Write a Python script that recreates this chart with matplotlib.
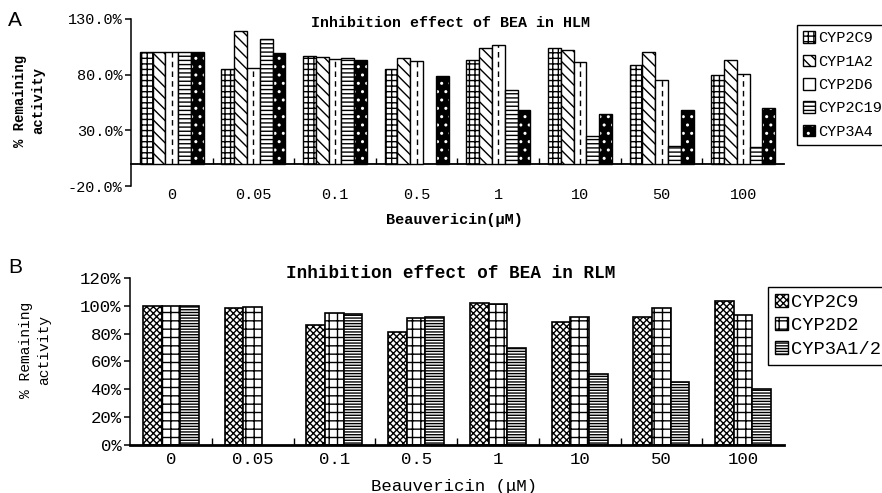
import numpy as np
import matplotlib
matplotlib.use('Agg')
import matplotlib.pyplot as plt
import matplotlib.patches as mpatches

plt.rcParams['font.family'] = ['Liberation Mono', 'DejaVu Sans Mono']
plt.rcParams['hatch.linewidth'] = 1.0

conc = ['0', '0.05', '0.1', '0.5', '1', '10', '50', '100']

# HLM (panel A), % remaining activity
hlm_names = ['CYP2C9', 'CYP1A2', 'CYP2D6', 'CYP2C19', 'CYP3A4']
hlm_2c9 = [100, 85, 97, 85, 93, 104, 89, 80]
hlm_1a2 = [100, 119, 96, 95, 104, 102, 100, 93]
hlm_2d6 = [100, 86, 94, 92, 107, 91, 75, 81]
hlm_2c19 = [100, 112, 95, np.nan, 66, 25, 16, 15]
hlm_3a4 = [100, 99, 93, 79, 48, 45, 48, 50]

# RLM (panel B)
rlm_names = ['CYP2C9', 'CYP2D2', 'CYP3A1/2']
rlm_2c9 = [100, 98, 86, 81, 102, 88, 92, 103]
rlm_2d2 = [100, 99, 95, 91, 101, 92, 98, 93]
rlm_3a = [100, np.nan, 94, 92, 70, 51, 45, 40]

x = np.arange(len(conc))

fig = plt.figure(figsize=(8.82, 4.93), dpi=100)
axA = fig.add_axes([0.1485, 0.6227, 0.7404, 0.3388])
axB = fig.add_axes([0.1474, 0.0968, 0.7415, 0.3399])

# ---------- panel A ----------
wA = 0.157
styleA = [dict(facecolor='white', edgecolor='black', hatch='+++'),
          dict(facecolor='white', edgecolor='black', hatch='\\\\\\'),
          dict(facecolor='white', edgecolor='black', hatch=''),
          dict(facecolor='white', edgecolor='black', hatch='----'),
          dict(facecolor='black', edgecolor='white', hatch='..')]
seriesA = [hlm_2c9, hlm_1a2, hlm_2d6, hlm_2c19, hlm_3a4]
for i, (vals, st) in enumerate(zip(seriesA, styleA)):
    pos = x + (i - 2) * wA
    bars = axA.bar(pos, vals, wA, linewidth=0 if i == 4 else 1.0, **st)
    if i == 4:
        axA.bar(pos, vals, wA, fill=False, edgecolor='black', linewidth=1.0)
    if i == 2:
        # dashed centre line of the CYP2D6 bars
        for b in bars:
            h = b.get_height()
            if not np.isnan(h):
                axA.plot([b.get_x() + b.get_width() / 2] * 2, [0, h],
                         color='black', lw=1.0, ls=(0, (4, 3)))

axA.set_xlim(-0.5, len(conc) - 0.5)
axA.set_ylim(-20, 130)
axA.set_yticks([-20, 30, 80, 130])
axA.set_yticklabels(['%.1f%%' % v for v in [-20, 30, 80, 130]], fontsize=11)
axA.set_xticks(x)
axA.set_xticklabels(conc, fontsize=11)
axA.tick_params(axis='x', length=0, pad=1.5)
axA.tick_params(axis='y', length=4, width=1.1, pad=2)
for s in ['top', 'right', 'bottom']:
    axA.spines[s].set_visible(False)
axA.spines['left'].set_linewidth(1.1)
zero = axA.secondary_xaxis(20 / 150)
zero.set_xticks(x[:-1] + 0.5)
zero.tick_params(direction='in', length=4, width=1.0, labelbottom=False, labeltop=False)
zero.spines['bottom'].set_linewidth(1.3)
axA.text(0.49, 0.976, 'Inhibition effect of BEA in HLM', transform=axA.transAxes,
         ha='center', va='center', fontsize=10.8, fontweight='bold')
axA.set_xlabel('Beauvericin(μM)', fontsize=11, fontweight='bold')
axA.xaxis.set_label_coords(0.495, -0.16)
axA.set_ylabel('% Remaining\nactivity', fontsize=10, fontweight='bold', linespacing=1.35,
               va='center')
axA.yaxis.set_label_coords(-0.156, 0.51)

handlesA = []
for i, st in enumerate(styleA):
    if i == 4:
        handlesA.append((mpatches.Patch(linewidth=0, **st),
                         mpatches.Patch(fill=False, edgecolor='black', linewidth=1.0)))
    else:
        handlesA.append(mpatches.Patch(linewidth=1.0, **st))
legA = fig.legend(handlesA, hlm_names, loc='upper left', bbox_to_anchor=(0.9036, 0.949),
                  borderaxespad=0, fancybox=False, framealpha=1, edgecolor='black',
                  fontsize=11, handlelength=0.8, handleheight=0.8, handletextpad=0.2,
                  labelspacing=0.6, borderpad=0.4)
legA.get_frame().set_linewidth(1.0)

# ---------- panel B ----------
wB = 0.229
styleB = [dict(facecolor='white', edgecolor='black', hatch='xxxxx'),
          dict(facecolor='white', edgecolor='black', hatch='++'),
          dict(facecolor='white', edgecolor='black', hatch='------')]
seriesB = [rlm_2c9, rlm_2d2, rlm_3a]
for i, (vals, st) in enumerate(zip(seriesB, styleB)):
    axB.bar(x + (i - 1) * wB, vals, wB, linewidth=1.2, **st)

axB.set_xlim(-0.5, len(conc) - 0.5)
axB.set_ylim(0, 120)
axB.set_yticks(range(0, 121, 20))
axB.set_yticklabels(['%d%%' % v for v in range(0, 121, 20)], fontsize=12.5)
axB.set_xticks(x)
axB.set_xticklabels(conc, fontsize=12.5)
axB.set_xticks(x[:-1] + 0.5, minor=True)
axB.tick_params(axis='x', which='major', length=0, pad=5)
axB.tick_params(axis='x', which='minor', direction='in', length=5, width=1.0)
axB.tick_params(axis='y', length=4, width=1.1, pad=2)
for s in ['top', 'right']:
    axB.spines[s].set_visible(False)
axB.spines['left'].set_linewidth(1.1)
axB.spines['bottom'].set_linewidth(2.0)
axB.text(0.49, 1.028, 'Inhibition effect of BEA in RLM', transform=axB.transAxes,
         ha='center', va='center', fontsize=12.7, fontweight='bold')
axB.set_xlabel('Beauvericin (μM)', fontsize=12.5)
axB.xaxis.set_label_coords(0.495, -0.2)
axB.set_ylabel('% Remaining\nactivity', fontsize=10.5, linespacing=1.35, va='center')
axB.yaxis.set_label_coords(-0.145, 0.57)

handlesB = [mpatches.Patch(linewidth=1.0, **st) for st in styleB]
legB = fig.legend(handlesB, rlm_names, loc='upper left', bbox_to_anchor=(0.8707, 0.4178),
                  borderaxespad=0, fancybox=False, framealpha=1, edgecolor='black',
                  fontsize=13.5, handlelength=0.7, handleheight=0.7, handletextpad=0.2,
                  labelspacing=0.35, borderpad=0.35)
legB.get_frame().set_linewidth(1.0)

fig.text(0.009, 0.958, 'A', fontsize=15, family='Liberation Sans', va='center')
fig.text(0.009, 0.458, 'B', fontsize=15, family='Liberation Sans', va='center')

fig.savefig('out.png', dpi=100)
